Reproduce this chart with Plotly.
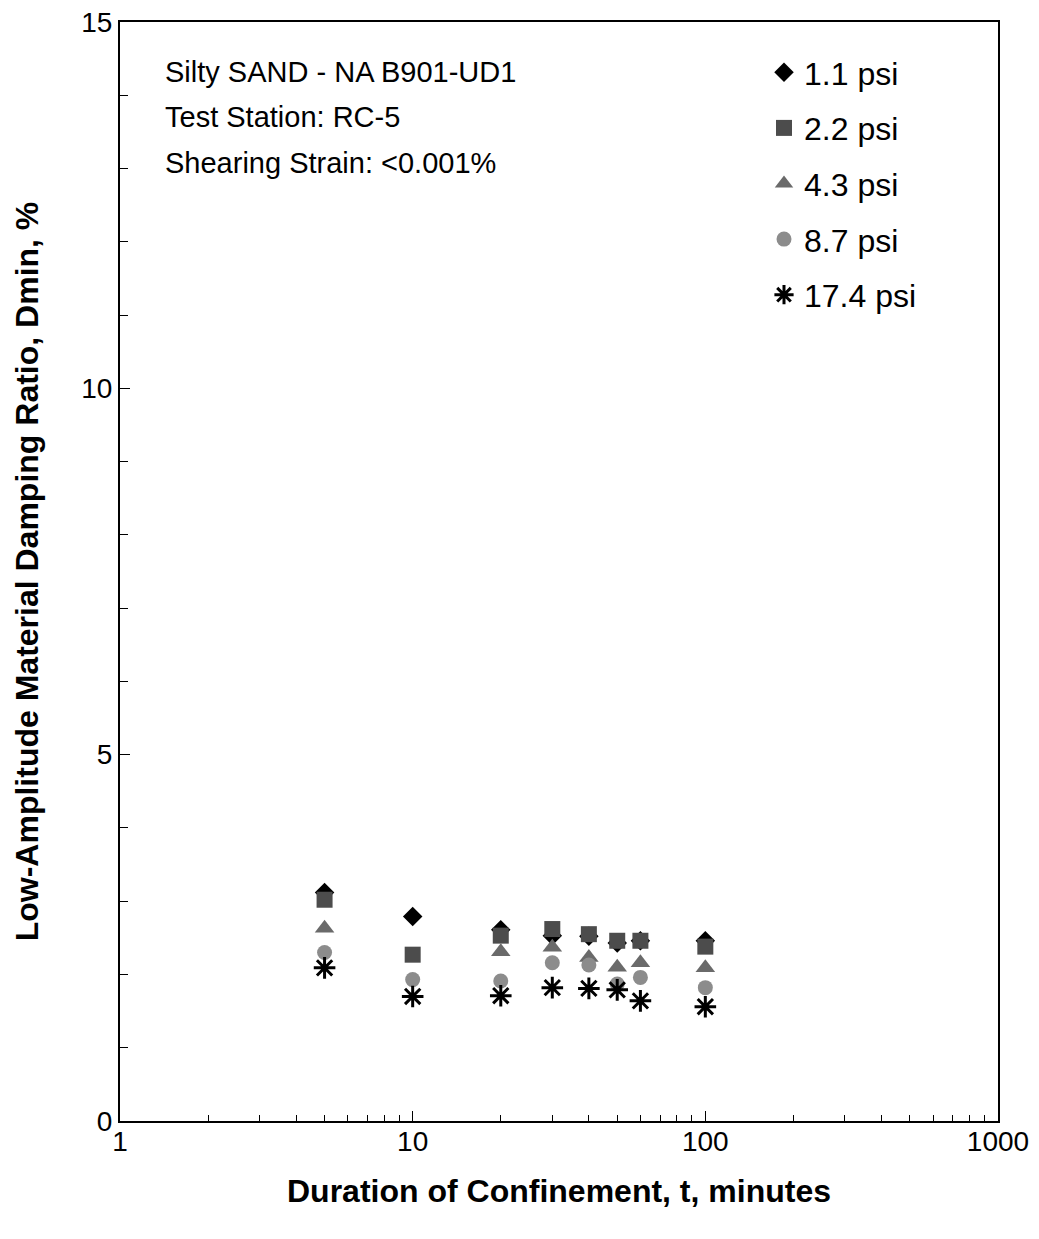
import plotly.graph_objects as go

# Duration of confinement (minutes)
t = [5, 10, 20, 30, 40, 50, 60, 100]

# Low-amplitude damping ratio, Dmin (%)
d_1_1 = [3.12, 2.79, 2.61, 2.53, 2.52, 2.43, 2.46, 2.46]
d_2_2 = [3.02, 2.27, 2.53, 2.62, 2.55, 2.46, 2.46, 2.38]
d_4_3 = [2.63, None, 2.31, 2.37, 2.23, 2.10, 2.16, 2.09]
d_8_7 = [2.30, 1.93, 1.91, 2.16, 2.13, 1.87, 1.96, 1.82]
d_17_4 = [2.09, 1.70, 1.71, 1.82, 1.81, 1.79, 1.64, 1.56]

names = ["1.1 psi", "2.2 psi", "4.3 psi", "8.7 psi", "17.4 psi"]
series = [d_1_1, d_2_2, d_4_3, d_8_7, d_17_4]
symbols = ["diamond", "square", "triangle-up", "circle", "asterisk-open"]
colors = ["#000000", "#4c4c4c", "#6a6a6a", "#8c8c8c", "#000000"]
sizes = [15, 16, 17, 15, 18]

fig = go.Figure()
for i, (nm, ys) in enumerate(zip(names, series)):
    xs = [x for x, y in zip(t, ys) if y is not None]
    yv = [y for y in ys if y is not None]
    if symbols[i] == "asterisk-open":
        marker = dict(symbol=symbols[i], size=sizes[i], color=colors[i],
                      line=dict(color=colors[i], width=3))
    else:
        marker = dict(symbol=symbols[i], size=sizes[i], color=colors[i],
                      line=dict(width=0))
    fig.add_trace(go.Scatter(x=xs, y=yv, mode="markers", name=nm,
                             marker=marker, legendgroup=str(i)))

font_fam = "Liberation Sans, Arial, sans-serif"

# page offset of 8px (body margin) is compensated in margins
PL, PT, PW, PH = 120, 22, 878, 1099

notes = ["Silty SAND - NA B901-UD1", "Test Station: RC-5", "Shearing Strain: <0.001%"]
note_y = [72, 117, 163]
for txt, py in zip(notes, note_y):
    fig.add_annotation(text=txt, xref="paper", yref="paper",
                       x=(163 - PL) / PW, y=1 - (py - PT) / PH,
                       xanchor="left", yanchor="middle", showarrow=False,
                       font=dict(size=29, color="#000", family=font_fam))

fig.update_layout(
    width=1031, height=1231,
    margin=dict(l=112, r=41, t=14, b=118),
    paper_bgcolor="white", plot_bgcolor="white",
    font=dict(family=font_fam, color="#000", size=29),
    showlegend=True,
    legend=dict(x=(764 - PL) / PW, y=1 - (45 - PT) / PH,
                xanchor="left", yanchor="top",
                font=dict(size=32, family=font_fam),
                tracegroupgap=11, itemwidth=30,
                bgcolor="rgba(0,0,0,0)"),
    xaxis=dict(type="log", range=[0, 3], automargin=False,
               tickvals=[1, 10, 100, 1000], ticktext=["1", "10", "100", "1000"],
               ticks="inside", ticklen=10, tickwidth=1, tickcolor="#000",
               ticklabelstandoff=-6, ticklabeloverflow="allow",
               minor=dict(ticks="inside", ticklen=6, tickwidth=1, tickcolor="#000",
                          tickvals=[a * b for b in [1, 10, 100] for a in range(2, 10)]),
               showline=True, linecolor="#000", linewidth=2, mirror=True,
               showgrid=False, zeroline=False,
               tickfont=dict(size=28),
               title=dict(text="<b>Duration of Confinement, t, minutes</b>",
                          font=dict(size=32), standoff=24)),
    yaxis=dict(range=[0, 15], tickvals=[0, 5, 10, 15], automargin=False,
               ticks="inside", ticklen=10, tickwidth=1, tickcolor="#000",
               ticklabeloverflow="allow",
               minor=dict(ticks="inside", ticklen=8, tickwidth=1, tickcolor="#000",
                          dtick=1),
               showline=True, linecolor="#000", linewidth=2, mirror=True,
               showgrid=False, zeroline=False,
               tickfont=dict(size=28),
               title=dict(text="<b>Low-Amplitude Material Damping Ratio, Dmin, %</b>",
                          font=dict(size=32), standoff=33)),
)

fig.write_html("out.html")
